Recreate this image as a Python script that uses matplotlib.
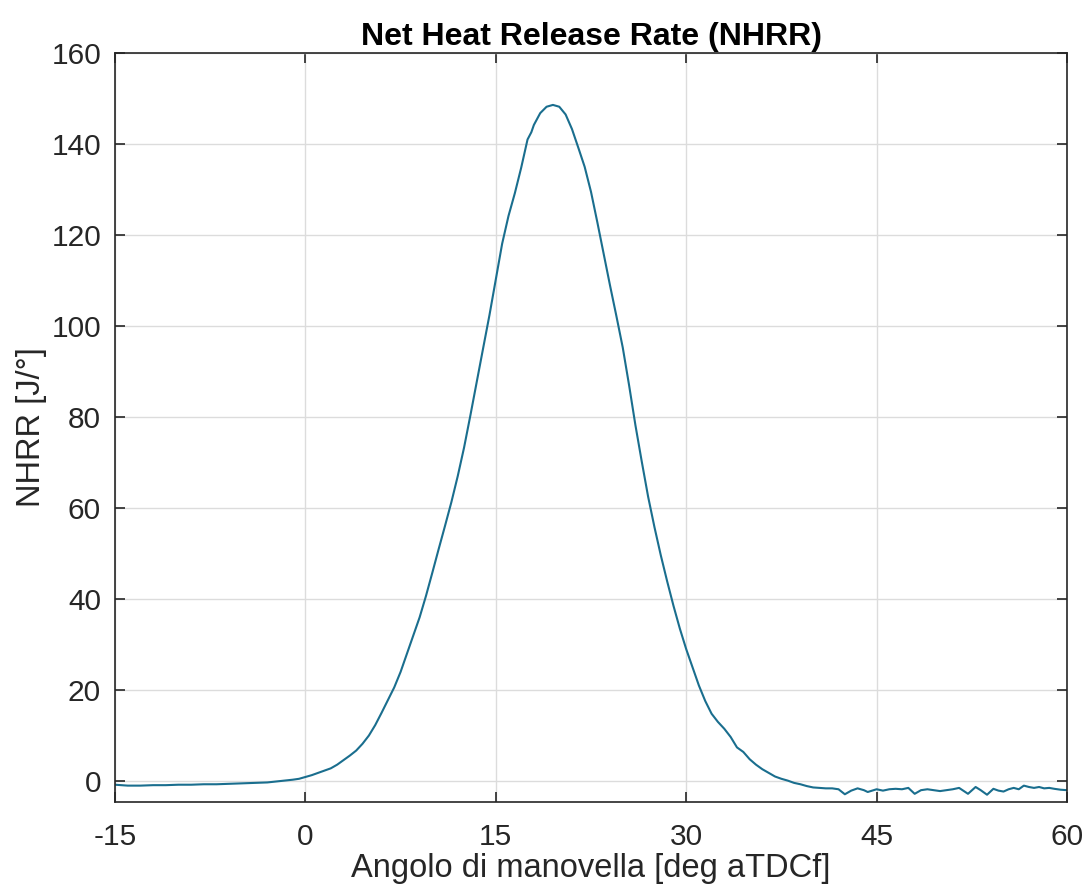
import matplotlib
matplotlib.use("Agg")
import matplotlib.pyplot as plt

angle = [-15, -14, -13, -12, -11, -10, -9, -8, -7, -6, -5, -4, -3, -2, -1, -0.5,
         0, 0.5, 1, 1.5, 2, 2.5, 3, 3.5, 4, 4.5, 5, 5.5, 6, 6.5, 7, 7.5, 8, 8.5, 9,
         9.5, 10, 10.5, 11, 11.5, 12, 12.5, 13, 13.5, 14, 14.5, 15, 15.5, 16, 16.5,
         17, 17.5, 17.8, 18, 18.5, 19, 19.5, 20, 20.5, 21, 21.5, 22, 22.5, 23, 23.5, 24,
         24.5, 25, 25.5, 26, 26.5, 27, 27.5, 28, 28.5, 29, 29.5, 30, 30.5, 31, 31.5,
         32, 32.5, 33, 33.5, 34, 34.5, 35, 35.5, 36, 36.5, 37, 37.5, 38, 38.5, 39,
         39.5, 40, 40.5, 41, 41.5, 42, 42.5, 43, 43.5, 44, 44.3, 45, 45.5, 46, 46.5,
         47, 47.5, 48, 48.5, 49, 49.5, 50, 50.5, 51, 51.5, 52.2, 52.8, 53.2, 53.7,
         54.2, 54.6, 55, 55.4, 55.8, 56.2, 56.6, 57, 57.4, 57.8, 58.2, 58.6, 59,
         59.5, 60]
nhrr = [-0.8, -1.0, -1.0, -0.9, -0.9, -0.8, -0.8, -0.7, -0.7, -0.6, -0.5, -0.4,
        -0.3, 0.0, 0.3, 0.5,
        0.9, 1.3, 1.8, 2.3, 2.8, 3.6, 4.6, 5.6, 6.7, 8.2, 10.0, 12.3, 15.0, 17.8,
        20.6, 24.0, 28.0, 32.0, 36.0,
        40.7, 45.8, 51.0, 56.1, 61.3, 67.0, 73.3, 80.4, 87.8, 95.1, 102.4, 110.2,
        118.1, 124.2, 129.2,
        134.8, 141.0, 142.6, 144.2, 146.8, 148.2, 148.6, 148.2, 146.5, 143.3, 139.2,
        135.0, 129.5, 122.8, 115.8, 108.9,
        102.2, 95.3, 87.0, 78.2, 70.2, 62.5, 55.8, 49.6, 43.9, 38.5, 33.5, 29.0,
        25.0, 21.0, 17.6,
        14.8, 13.0, 11.5, 9.7, 7.4, 6.4, 4.8, 3.6, 2.6, 1.8, 1.0, 0.5, 0.1, -0.4,
        -0.7,
        -1.1, -1.4, -1.5, -1.6, -1.6, -1.8, -2.9, -2.1, -1.6, -2.0, -2.4, -1.8, -2.1,
        -1.8, -1.7,
        -1.8, -1.5, -2.8, -2.0, -1.8, -2.0, -2.2, -2.0, -1.8, -1.5, -2.8, -1.3, -2.0,
        -3.0,
        -1.7, -2.1, -2.3, -1.8, -1.5, -1.8, -1.0, -1.3, -1.5, -1.3, -1.6, -1.5, -1.7,
        -1.9, -2.0]

xticks = [-15, 0, 15, 30, 45, 60]
yticks = [0, 20, 40, 60, 80, 100, 120, 140, 160]

plt.rcParams['font.family'] = ['Liberation Sans', 'DejaVu Sans']

fig = plt.figure(figsize=(10.88, 8.93), dpi=100)
ax = fig.add_axes([0.1057, 0.1019, 0.8750, 0.8387])
ax.plot(angle, nhrr, color='#1a6e8e', lw=1.5)
ax.set_xlim(-15, 60)
ax.set_ylim(-4.6, 160)
ax.set_xticks(xticks)
ax.set_xticklabels([str(t) for t in xticks])
ax.set_yticks(yticks)
ax.grid(True, color='#dcdcdc', lw=1.0)
ax.set_axisbelow(True)
ax.tick_params(direction='in', top=True, right=True, length=7, width=1.2,
               labelsize=21.5, colors='#262626')
ax.tick_params(axis='x', pad=15)
ax.tick_params(axis='y', pad=10)
for s in ax.spines.values():
    s.set_color('#262626')
    s.set_linewidth(1.2)
ax.set_title('Net Heat Release Rate (NHRR)', fontsize=23, fontweight='bold', pad=6)
ax.set_xlabel('Angolo di manovella [deg aTDCf]', fontsize=23.5, color='#262626', labelpad=1.5)
ax.set_ylabel('NHRR [J/°]', fontsize=23.5, color='#262626', labelpad=3)
fig.savefig('out.png', dpi=100)
